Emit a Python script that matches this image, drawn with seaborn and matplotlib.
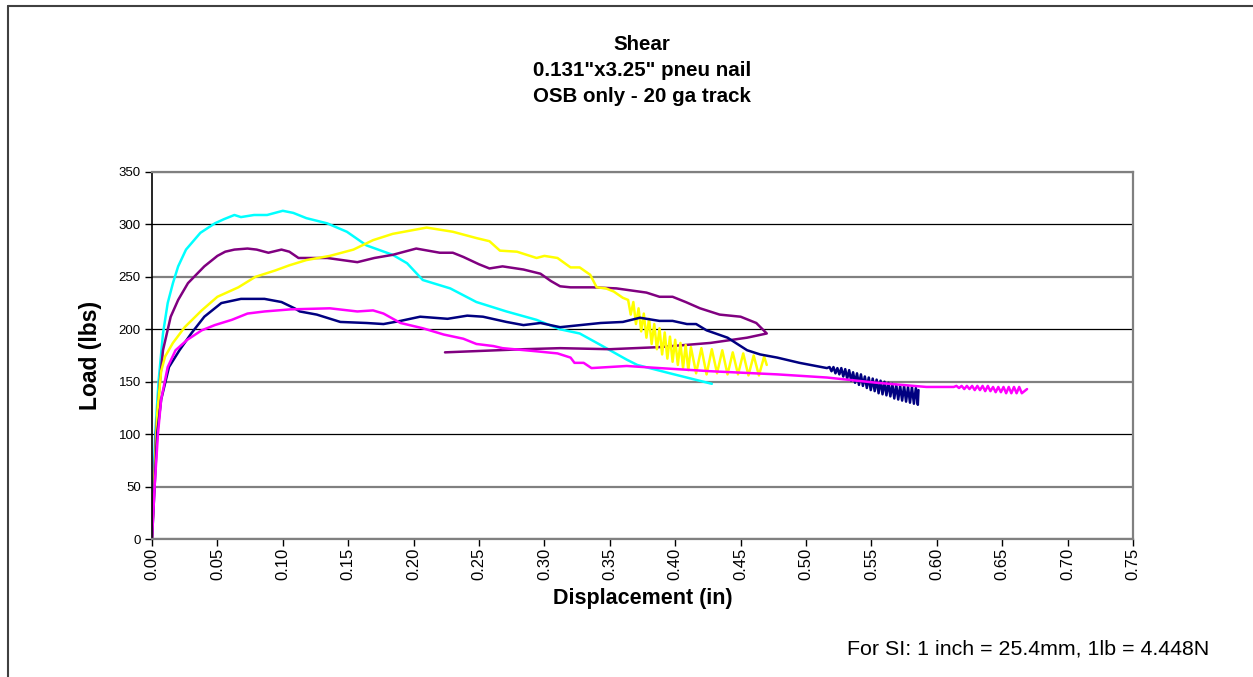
import matplotlib
matplotlib.use("Agg")
import matplotlib.pyplot as plt
from matplotlib.lines import Line2D
import seaborn as sns
import pandas as pd

# ---- load-displacement records (displacement in inches, load in lbs) ----
cyan_x = [0.0, 0.0008, 0.0025, 0.005, 0.0084, 0.012, 0.016, 0.020, 0.026, 0.037, 0.048,
          0.055, 0.063, 0.068, 0.078, 0.088, 0.100, 0.108, 0.118, 0.134, 0.149, 0.164,
          0.184, 0.195, 0.207, 0.228, 0.248, 0.271, 0.294, 0.312, 0.327, 0.343, 0.363,
          0.371, 0.396, 0.428]
cyan_y = [0, 50, 101, 150, 196, 225, 244, 260, 276, 292, 301,
          305, 309, 307, 309, 309, 313, 311, 306, 301, 293, 280,
          271, 263, 247, 239, 226, 217, 209, 200, 196, 185, 171,
          166, 158, 148]

purple_x = [0.0, 0.0015, 0.003, 0.006, 0.0084, 0.0143, 0.020, 0.0275, 0.040, 0.050, 0.056,
            0.063, 0.073, 0.080, 0.089, 0.099, 0.105, 0.112, 0.134, 0.157, 0.170, 0.184,
            0.202, 0.220, 0.230, 0.238, 0.250, 0.258, 0.268, 0.284, 0.297, 0.305, 0.312,
            0.320, 0.337, 0.355, 0.378, 0.388, 0.398, 0.408, 0.419, 0.434, 0.450, 0.462,
            0.470, 0.455, 0.427, 0.388, 0.350, 0.312, 0.284, 0.224]
purple_y = [0, 50, 101, 150, 180, 212, 228, 244, 260, 270, 274,
            276, 277, 276, 273, 276, 274, 268, 268, 264, 268, 271,
            277, 273, 273, 269, 262, 258, 260, 257, 253, 246, 241,
            240, 240, 239, 235, 231, 231, 226, 220, 214, 212, 206,
            196, 192, 187, 183, 181, 182, 181, 178]

yellow_x = [0.0, 0.002, 0.004, 0.007, 0.010, 0.016, 0.025, 0.038, 0.050, 0.066, 0.079,
            0.094, 0.105, 0.118, 0.136, 0.154, 0.169, 0.184, 0.210, 0.230, 0.248, 0.258,
            0.266, 0.279, 0.294, 0.300, 0.310, 0.320, 0.327, 0.335, 0.340, 0.347, 0.353,
            0.360,
            0.364, 0.366, 0.368, 0.370, 0.372, 0.374, 0.376, 0.378, 0.380, 0.382, 0.384,
            0.386, 0.388, 0.390, 0.392, 0.394, 0.396, 0.398, 0.400, 0.402, 0.404, 0.406,
            0.408, 0.410, 0.412,
            0.416, 0.420, 0.424, 0.428, 0.432, 0.436, 0.440, 0.444, 0.448, 0.452, 0.456,
            0.460, 0.464, 0.468, 0.470]
yellow_y = [0, 60, 120, 160, 174, 187, 202, 218, 231, 240, 250,
            256, 261, 266, 270, 276, 285, 291, 297, 293, 287, 284,
            275, 274, 268, 270, 268, 259, 259, 252, 240, 239, 236,
            230,
            228, 214, 226, 205, 220, 198, 215, 192, 210, 186, 205,
            181, 201, 176, 197, 172, 193, 169, 190, 166, 187, 163,
            185, 161, 183,
            158, 182, 157, 181, 158, 180, 157, 178, 157, 177, 156,
            175, 156, 174, 166]

navy_x = [0.0, 0.002, 0.004, 0.007, 0.013, 0.021, 0.030, 0.040, 0.053, 0.068, 0.086,
          0.099, 0.109, 0.113, 0.126, 0.144, 0.164, 0.177, 0.190, 0.205, 0.226, 0.241,
          0.253, 0.271, 0.284, 0.297, 0.312, 0.343, 0.360, 0.373, 0.388, 0.398, 0.409,
          0.416, 0.424, 0.440, 0.455, 0.465, 0.478, 0.495, 0.516,
          0.518, 0.5195, 0.521, 0.5225, 0.524, 0.5255, 0.527, 0.5285, 0.530, 0.5315,
          0.533, 0.5345, 0.536, 0.5375, 0.539, 0.5405, 0.542, 0.5435, 0.545, 0.5465,
          0.548, 0.5495, 0.551, 0.5525, 0.554, 0.5555, 0.557, 0.5585, 0.560, 0.5615,
          0.563, 0.5645, 0.566, 0.5675, 0.569, 0.5705, 0.572, 0.5735, 0.575, 0.5765,
          0.578, 0.5795, 0.581, 0.5825, 0.584, 0.5855, 0.586]
navy_y = [0, 50, 101, 133, 164, 180, 196, 212, 225, 229, 229,
          226, 220, 217, 214, 207, 206, 205, 208, 212, 210, 213,
          212, 207, 204, 206, 202, 206, 207, 211, 208, 208, 205,
          205, 199, 192, 180, 176, 173, 168, 163,
          164, 160, 164, 158, 163, 157, 163, 155, 162, 153,
          161, 151, 159, 149, 158, 147, 157, 146, 155, 144,
          154, 142, 153, 141, 152, 139, 151, 138, 150, 137,
          149, 136, 148, 134, 147, 133, 146, 132, 146, 131,
          145, 130, 145, 129, 144, 128, 142]

magenta_x = [0.0, 0.002, 0.0046, 0.007, 0.012, 0.018, 0.027, 0.038, 0.048, 0.061, 0.073,
             0.086, 0.106, 0.136, 0.157, 0.169, 0.177, 0.190, 0.207, 0.223, 0.238, 0.248,
             0.261, 0.268, 0.294, 0.310, 0.320, 0.323, 0.330, 0.336, 0.363, 0.388, 0.427,
             0.478, 0.516, 0.554, 0.592, 0.613,
             0.615, 0.617, 0.619, 0.621, 0.623, 0.625, 0.627, 0.629, 0.631, 0.633, 0.635,
             0.637, 0.639, 0.641, 0.643, 0.645, 0.647, 0.649, 0.651, 0.653, 0.655, 0.657,
             0.659, 0.661, 0.663, 0.665, 0.669]
magenta_y = [0, 50, 101, 133, 164, 180, 190, 199, 204, 209, 215,
             217, 219, 220, 217, 218, 215, 206, 201, 195, 191, 186,
             184, 182, 179, 177, 173, 168, 168, 163, 165, 163, 160,
             157, 154, 149, 145, 145,
             146, 144, 146, 143, 146, 143, 146, 142, 146, 142, 146,
             141, 146, 141, 145, 140, 145, 140, 145, 139, 145, 139,
             145, 139, 145, 139, 143]

series = {
    "cyan": (cyan_x, cyan_y, "#00FFFF"),
    "purple": (purple_x, purple_y, "#800080"),
    "yellow": (yellow_x, yellow_y, "#FFFF00"),
    "navy": (navy_x, navy_y, "#000080"),
    "magenta": (magenta_x, magenta_y, "#FF00FF"),
}

x_ticks = [0.00, 0.05, 0.10, 0.15, 0.20, 0.25, 0.30, 0.35, 0.40, 0.45, 0.50, 0.55,
           0.60, 0.65, 0.70, 0.75]
y_ticks = [0, 50, 100, 150, 200, 250, 300, 350]

frames = []
for name, (xs, ys, _) in series.items():
    frames.append(pd.DataFrame({"disp": xs, "load": ys, "specimen": name}))
df = pd.concat(frames, ignore_index=True)
palette = {name: c for name, (_, _, c) in series.items()}

sns.set_style("white")
plt.rcParams["font.family"] = ["Liberation Sans", "DejaVu Sans"]
plt.rcParams["text.color"] = "black"
plt.rcParams["axes.labelcolor"] = "black"
plt.rcParams["xtick.color"] = "black"
plt.rcParams["ytick.color"] = "black"

fig = plt.figure(figsize=(12.53, 6.77), dpi=100)
ax = fig.add_axes([152 / 1253, 1 - 539 / 677, (1133 - 152) / 1253, (539 - 172) / 677])

sns.lineplot(data=df, x="disp", y="load", hue="specimen", palette=palette,
             sort=False, estimator=None, legend=False, linewidth=1.8, ax=ax)

ax.set_xlim(0, 0.75)
ax.set_ylim(0, 350)
ax.set_xticks(x_ticks)
ax.set_xticklabels([f"{t:.2f}" for t in x_ticks], rotation=90, fontsize=12)
ax.set_yticks(y_ticks)
ax.set_yticklabels([str(t) for t in y_ticks], fontsize=9.5)
ax.tick_params(axis="both", direction="out", length=5, width=1, color="black",
               labelcolor="black")
ax.tick_params(axis="x", bottom=True, pad=1)
ax.tick_params(axis="y", left=True, pad=3)

# horizontal gridlines, alternating dark and grey tones
ax.yaxis.grid(True)
ax.xaxis.grid(False)
for val, gl in zip(y_ticks, ax.get_ygridlines()):
    if val in (100, 200, 300):
        gl.set_color("black")
        gl.set_linewidth(0.9)
    else:
        gl.set_color("#808080")
        gl.set_linewidth(1.6)
ax.set_axisbelow(True)

for side in ("top", "right", "bottom"):
    ax.spines[side].set_color("#808080")
    ax.spines[side].set_linewidth(1.6)
    ax.spines[side].set_visible(True)
ax.spines["left"].set_color("black")
ax.spines["left"].set_linewidth(1.2)
ax.spines["left"].set_visible(True)

ax.set_xlabel("Displacement (in)", fontsize=15.5, fontweight="bold", labelpad=6)
ax.set_ylabel("Load (lbs)", fontsize=16.5, fontweight="bold", labelpad=12)

title_lines = ["Shear", "0.131\"x3.25\" pneu nail", "OSB only - 20 ga track"]
for ypix, line in zip([44, 70, 97], title_lines):
    fig.text(642 / 1253, 1 - ypix / 677, line, ha="center", va="center",
             fontsize=14.8, fontweight="bold")

fig.text(1209 / 1253, 1 - 649 / 677, "For SI: 1 inch = 25.4mm, 1lb = 4.448N",
         ha="right", va="center", fontsize=15.4)

# chart frame edges
fig.add_artist(Line2D([8 / 1253, 1.0], [1 - 6 / 677, 1 - 6 / 677],
                      transform=fig.transFigure, color="#404040", linewidth=1.5))
fig.add_artist(Line2D([8 / 1253, 8 / 1253], [0.0, 1 - 6 / 677],
                      transform=fig.transFigure, color="#404040", linewidth=1.5))

fig.savefig("out.png", dpi=100, facecolor="white")
